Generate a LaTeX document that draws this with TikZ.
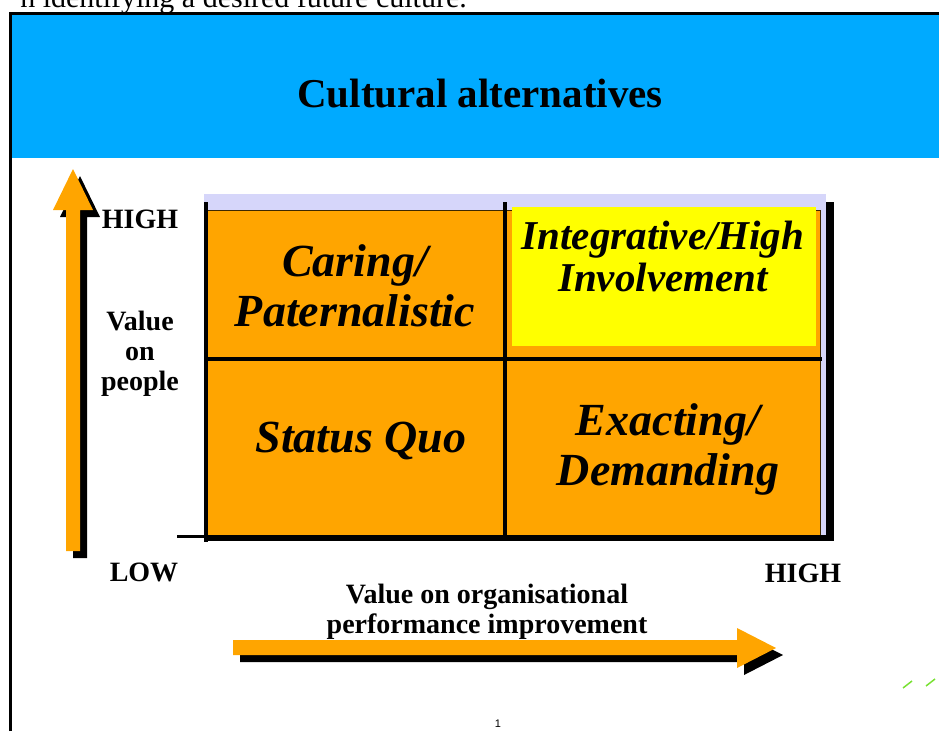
\documentclass[tikz,border=0pt]{standalone}
\usepackage{fontspec}
\setmainfont{Liberation Serif}
\newfontfamily\pagenofont{Liberation Sans}
\definecolor{headerblue}{RGB}{0,170,255}
\definecolor{cellorange}{RGB}{255,165,0}
\definecolor{cellyellow}{RGB}{255,255,0}
\definecolor{gridlavender}{RGB}{214,214,250}
\definecolor{tickgreen}{RGB}{120,225,50}
\begin{document}
\begin{tikzpicture}[x=1pt,y=1pt,yscale=-1,xscale=1,
	axislabel/.style={inner sep=0.75pt,font=\fontsize{28}{30}\selectfont\bfseries,align=center},
	celllabel/.style={inner sep=0.75pt,font=\fontsize{46}{50}\selectfont\bfseries\itshape,align=center},
	gridline/.style={line width=4pt}]
			\useasboundingbox (0,0) rectangle (939,731);

			% Text Node (cut off at the top)
			\draw (467,7) node (prevline) [anchor=base east,inner sep=0pt,font=\fontsize{30}{32}\selectfont] {n identifying a desired future culture.};

			%Shape: Rectangle (header)
			\fill [headerblue] (11,14) rectangle (939,158);
			%Straight Lines (frame)
			\draw [line width=3pt] (10,731) -- (10,13) -- (939,13);

			%Shape: Rectangle (grid background)
			\fill [gridlavender] (204,194) rectangle (826,540);
			%Shape: Rectangle (right shadow)
			\fill [black] (826,202) rectangle (834,541);
			%Shape: Rectangle (cells)
			\draw [draw={rgb,255:red,60;green,40;blue,0},line width=1pt,fill=cellorange] (207,210) rectangle (820,535);
			%Shape: Rectangle (high/high cell)
			\fill [cellyellow] (512,207) rectangle (816,346);

			%Straight Lines (grid)
			\draw [gridline] (205.5,202) -- (205.5,542);
			\draw [gridline] (505,202) -- (505,535);
			\draw [gridline] (207,359) -- (822,359);
			\draw [line width=6pt] (205,538) -- (834,538);
			\draw [line width=3pt] (177,536) -- (207,536);

			%Shape: Arrow (vertical, shadow then body)
			\fill [black,shift={(7,7)}] (66,551) -- (66,210) -- (53,210) -- (73,169) -- (93,210) -- (80,210) -- (80,551) -- cycle;
			\fill [cellorange] (66,551) -- (66,210) -- (53,210) -- (73,169) -- (93,210) -- (80,210) -- (80,551) -- cycle;
			%Shape: Arrow (horizontal, shadow then body)
			\fill [black,shift={(7,7)}] (233,640) -- (737,640) -- (737,628) -- (776,648) -- (737,668) -- (737,655) -- (233,655) -- cycle;
			\fill [cellorange] (233,640) -- (737,640) -- (737,628) -- (776,648) -- (737,668) -- (737,655) -- (233,655) -- cycle;

			%Straight Lines (green marks)
			\draw [tickgreen,line width=1.5pt] (903,688) -- (912,681);
			\draw [tickgreen,line width=1.5pt] (926,686) -- (935,679);

			% Text Node
			\draw (480,94) node (title) [inner sep=0.75pt,font=\fontsize{41}{44}\selectfont\bfseries] {Cultural alternatives};
			% Text Node
			\draw (140,219) node (yhigh) [axislabel] {HIGH};
			% Text Node
			\draw (140,354) node (ylabel) [axislabel] {Value\\on\\people};
			% Text Node
			\draw (144,572) node (ylow) [axislabel] {LOW};
			% Text Node
			\draw (803,573) node (xhigh) [axislabel] {HIGH};
			% Text Node
			\draw (487,612) node (xlabel) [axislabel] {Value on organisational\\performance improvement};

			% Text Node
			\draw (355,286) node (caring) [celllabel] {Caring/\\Paternalistic};
			% Text Node
			\draw (361,441) node (statusquo) [celllabel] {Status Quo};
			% Text Node
			\draw (663,256) node (integrative) [celllabel,font=\fontsize{41}{42}\selectfont\bfseries\itshape] {Integrative/High\\Involvement};
			% Text Node
			\draw (668,449) node (exacting) [celllabel] {Exacting/\\Demanding};

			% Text Node
			\draw (498,724) node (pageno) [inner sep=0.75pt,font=\pagenofont\fontsize{11}{12}\selectfont] {1};
\end{tikzpicture}
\end{document}
